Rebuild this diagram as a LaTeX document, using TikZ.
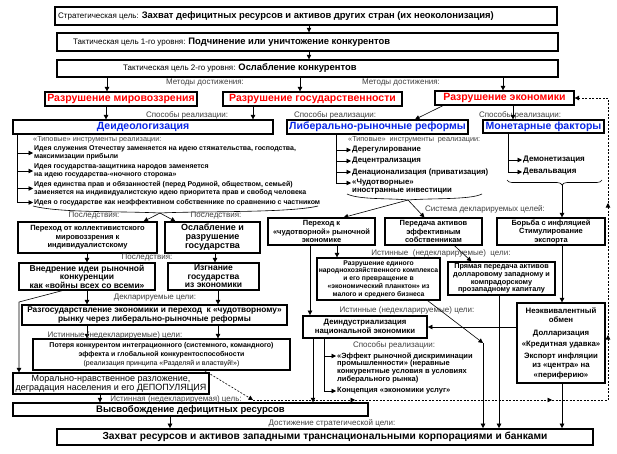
\documentclass[tikz,border=0pt]{standalone}
\usepackage{fontspec}
\setmainfont{Liberation Sans}
\usetikzlibrary{arrows.meta,decorations.pathreplacing}
\definecolor{redt}{RGB}{255,0,0}
\definecolor{bluet}{RGB}{10,40,230}
\begin{document}
\begin{tikzpicture}[x=1pt,y=-1pt,
  box/.style={draw, line width=1.2pt, fill=white, inner sep=0pt, align=center},
  sz/.style 2 args={minimum width=#1pt, minimum height=#2pt},
  txt/.style={inner sep=0pt},
  lab/.style={inner sep=0pt, font=\fontsize{8}{8}\selectfont, text=black!75},
  arr/.style={-{Triangle[length=4.5pt,width=4.5pt]}, line width=0.6pt},
  ln/.style={line width=0.6pt},
  dsh/.style={arr, dash pattern=on 2pt off 1.5pt},
  redb/.style={font=\bfseries\fontsize{10.5}{12}\selectfont, text=redt},
  blueb/.style={font=\bfseries\fontsize{10.5}{12}\selectfont, text=bluet},
  item/.style={anchor=west, inner sep=1pt, align=left, font=\bfseries\fontsize{7}{7.8}\selectfont},
  fb/.style={font=\bfseries\fontsize{7.5}{8.5}\selectfont}
]
\fill[white] (0,0) rectangle (617,453);
\useasboundingbox (0,0) rectangle (617,453);

% column helpers
\foreach \c in {17,19,87,100,106,107,170,215,218,253,300,309,310,313,324,336,337,499,503,508,513,562}
  \coordinate (x\c) at (\c,0);

% ---------- top goals
\node[box, line width=1.5pt, sz={502}{18}] (t1) at (306,16) {};
\node[txt, anchor=west] (t1x) at (58,16) {\fontsize{8}{9}\selectfont Стратегическая цель: \bfseries\fontsize{9.4}{11}\selectfont Захват дефицитных ресурсов и активов других стран (их неоколонизация)};
\node[box, line width=1.5pt, sz={501}{18}] (t2) at (307.5,42) {};
\node[txt, anchor=west] (t2x) at (73,42) {\fontsize{8}{9}\selectfont Тактическая цель 1-го уровня: \bfseries\fontsize{9.4}{11}\selectfont Подчинение или уничтожение конкурентов};
\node[box, line width=1.5pt, sz={501}{17}] (t3) at (307.5,68.5) {};
\node[txt, anchor=west] (t3x) at (123,68.5) {\fontsize{8}{9}\selectfont Тактическая цель 2-го уровня: \bfseries\fontsize{9.4}{11}\selectfont Ослабление конкурентов};
\draw[arr] (t1.south -| x309) -- (t2.north -| x309);
\draw[arr] (t2.south -| x309) -- (t3.north -| x309);

\node[lab] (lm1) at (205,83) {Методы достижения:};
\node[lab] (lm2) at (401,83) {Методы достижения:};

% ---------- methods
\node[box, sz={152}{14}, redb] (m1) at (121,99) {Разрушение мировоззрения};
\node[box, sz={179}{14}, redb] (m2) at (312.5,99) {Разрушение государственности};
\node[box, sz={139}{14}, redb] (m3) at (504.5,98) {Разрушение экономики};
\draw[arr] (t3.south -| x107) -- (m1.north -| x107);
\draw[arr] (t3.south -| x300) -- (m2.north -| x300);
\draw[arr] (t3.south -| x503) -- (m3.north -| x503);

\node[lab] (ls1) at (187,115) {Способы реализации:};
\node[lab] (ls2) at (335,115) {Способы реализации:};
\node[lab] (ls3) at (520,115) {Способы реализации:};

% ---------- ways
\node[box, sz={260}{14}, blueb] (d1) at (143,127) {Деидеологизация};
\node[box, sz={181}{14}, blueb] (d2) at (377.5,127) {Либерально-рыночные реформы};
\node[box, sz={121}{13}, blueb] (d3) at (543.5,126.5) {Монетарные факторы};
\draw[arr] (m1.south -| x106) -- (d1.north -| x106);
\draw[arr] (m2.south -| x253) -- (d1.north -| x253);
\draw[arr] ([xshift=-61.5pt]m3.south) -- ([xshift=37.5pt]d2.north);
\draw[arr] (m3.south -| x513) -- (d3.north -| x513);

% ---------- deideologization list
\node[lab, anchor=west, font=\fontsize{7.3}{8}\selectfont] (d1t) at (33,140) {«Типовые» инструменты реализации:};
\node[item] (i1) at (33,153) {Идея служения Отечеству заменяется на идею стяжательства, господства,\\максимизации прибыли};
\node[item] (i2) at (33,171) {Идея государства-защитника народов заменяется\\на идею государства-«ночного сторожа»};
\node[item] (i3) at (33,188.5) {Идея единства прав и обязанностей (перед Родиной, обществом, семьей)\\заменяется на индивидуалистскую идею приоритета прав и свобод человека};
\node[item] (i4) at (33,202.5) {Идея о государстве как неэффективном собственнике по сравнению с частником};
\draw[ln] (d1.south -| x17) -- (i4.west -| x17);
\foreach \n in {i1,i2,i3,i4} \draw[arr] (\n.west -| x17) -- (\n.west);

% ---------- liberal list
\node[lab, anchor=west, font=\fontsize{7.3}{8}\selectfont] (d2t) at (348,140) {\makebox[132pt][s]{«Типовые» инструменты реализации:}};
\node[item, font=\bfseries\fontsize{7.8}{8}\selectfont] (l1) at (351,150) {Дерегулирование};
\node[item, font=\bfseries\fontsize{7.8}{8}\selectfont] (l2) at (351,161) {Децентрализация};
\node[item, font=\bfseries\fontsize{7.8}{8}\selectfont] (l3) at (351,172) {Денационализация (приватизация)};
\node[item, font=\bfseries\fontsize{7.8}{8}\selectfont] (l4) at (351,183) {«Чудотворные»};
\node[item, font=\bfseries\fontsize{7.8}{8}\selectfont] (l5) at (351,191) {иностранные инвестиции};
\draw[ln] (d2.south -| x336) -- (l4.west -| x336);
\foreach \n in {l1,l2,l3,l4} \draw[arr] (\n.west -| x336) -- (\n.west);

% ---------- monetary list
\node[item, font=\bfseries\fontsize{8}{8}\selectfont] (o1) at (522,160) {Демонетизация};
\node[item, font=\bfseries\fontsize{8}{8}\selectfont] (o2) at (522,172) {Девальвация};
\draw[ln] (d3.south -| x508) -- (o2.west -| x508);
\foreach \n in {o1,o2} \draw[arr] (\n.west -| x508) -- (\n.west);

% ---------- consequences (left)
\node[box, sz={139}{31}, font=\bfseries\fontsize{7.5}{8.5}\selectfont] (c1) at (87.5,237.5) {Переход от коллективистского\\мировоззрения к\\индивидуалистскому};
\node[box, sz={95}{31}, font=\bfseries\fontsize{9}{9}\selectfont] (c2) at (212.5,237.5) {Ослабление и\\разрушение\\государства};
\coordinate (b1L) at (33,206);
\coordinate (b1R) at (318,206);
\coordinate (b1T) at (160,213);
\draw[arr] (b1L) .. controls (60,213) and (120,211) .. (b1T) -- ([xshift=11pt]c2.north west);
\draw[arr] (b1R) .. controls (290,213) and (200,211) .. (b1T) -- ([xshift=-14pt]c1.north east);
\node[lab] (lp1) at (94,216) {Последствия:};
\node[lab] (lp2) at (216,216) {Последствия:};

\node[box, sz={136}{27}, font=\bfseries\fontsize{8.5}{8.6}\selectfont] (e1) at (87,276.5) {Внедрение идеи рыночной\\конкуренции\\как «войны всех со всеми»};
\node[box, sz={91}{27}, font=\bfseries\fontsize{8.5}{8.6}\selectfont] (e2) at (213.5,276.5) {Изгнание\\государства\\из экономики};
\draw[arr] (c1.south -| x87) -- (e1.north -| x87);
\draw[arr] (c2.south -| x215) -- (e2.north -| x215);
\node[lab] (lp3) at (147,258) {Последствия:};

\node[box, sz={265}{20}, font=\bfseries\fontsize{8.3}{9}\selectfont] (f1) at (154.5,315) {Разгосударствление экономики и переход \ к «чудотворному»\\рынку через либерально-рыночные реформы};
\draw[arr] (e1.south -| x87) -- (f1.north -| x87);
\draw[arr] (e2.south -| x218) -- (f1.north -| x218);
\node[lab] (ld1) at (155,298) {Декларируемые цели:};

\node[box, sz={257}{31}, font=\bfseries\fontsize{7}{8.7}\selectfont] (g1) at (161.5,354.5) {Потеря конкурентом интеграционного (системного, командного)\\эффекта и глобальной конкурентоспособности\\{\mdseries (реализация принципа «Разделяй и властвуй!»)}};
\draw[arr] (f1.south -| x87) -- (g1.north -| x87);
\draw[arr] (f1.south -| x218) -- (g1.north -| x218);
\node[lab] (li1) at (115,335) {Истинные (недекларируемые) цели:};

\node[box, sz={196}{21}, font=\fontsize{9}{9}\selectfont] (h1) at (111,383.5) {Морально-нравственное разложение,\\деградация населения и его ДЕПОПУЛЯЦИЯ};
\coordinate (bendA) at (19,302);
\draw[arr] ([xshift=44pt]e1.south west) -- (bendA) -- (h1.north -| x19);

\node[box, line width=1.5pt, sz={355}{13}, font=\bfseries\fontsize{9.5}{11}\selectfont] (k1) at (190.5,409.5) {Высвобождение дефицитных ресурсов};
\draw[arr] (h1.south -| x100) -- (k1.north -| x100);
\node[lab] (li2) at (176,399) {Истинная (недекларируемая) цель:};

\node[box, line width=1.7pt, sz={536}{16}, font=\bfseries\fontsize{10.2}{12}\selectfont] (z) at (325,437) {Захват ресурсов и активов западными транснациональными корпорациями и банками};
\draw[arr] (k1.south -| x170) -- (z.north -| x170);
\node[lab] (lz) at (332,423) {Достижение стратегической цели:};

% ---------- right side declared goals
\node[box, sz={107}{27}, fb] (n1) at (321.5,231.5) {Переход к\\«чудотворной» рыночной\\экономике};
\node[box, sz={97}{27}, fb] (n2) at (433.5,231.5) {Передача активов\\эффективным\\собственникам};
\node[box, sz={108}{27}, fb] (n3) at (551,231.5) {Борьба с инфляцией\\Стимулирование\\экспорта};
\node[lab] (lsys) at (485,209) {Система декларируемых целей:};

\coordinate (b2L) at (347,194);
\coordinate (b2R) at (482,194);
\coordinate (b2T) at (408,200);
\draw[arr] (b2L) .. controls (360,200) and (390,198) .. (b2T) -- ([xshift=40pt]n2.north west);
\draw[arr] (b2R) .. controls (470,200) and (430,198) .. (b2T) -- ([xshift=-32pt]n1.north east);

\coordinate (bmL) at (507,180);
\coordinate (bmR) at (602,180);
\coordinate (bmT) at (562,185);
\draw[ln, decorate, decoration={brace, mirror, amplitude=5pt, aspect=0.58}] (bmL) -- (bmR);
\draw[arr] (bmT) -- (n3.north -| bmT);

% ---------- right side true goals
\node[box, sz={123}{42}, font=\bfseries\fontsize{6.8}{7.75}\selectfont] (p1) at (378.5,279) {Разрушение единого\\народнохозяйственного комплекса\\и его превращение в\\«экономический планктон» из\\малого и среднего бизнеса};
\node[box, sz={107}{33}, font=\bfseries\fontsize{7.3}{7.8}\selectfont] (p2) at (501.5,278.5) {Прямая передача активов\\долларовому западному и\\компрадорскому\\прозападному капиталу};
\node[lab] (li3) at (441,253) {Истинные \ (недекларируемые) \ цели:};
\draw[arr] (n1.south -| x337) -- (p1.north -| x337);
\draw[arr] ([xshift=70pt]n2.south west) -- ([xshift=24pt]p2.north west);

\node[box, line width=1.8pt, sz={124}{22}, font=\bfseries\fontsize{7.8}{8.3}\selectfont] (q1) at (365,327) {Деиндустриализация\\национальной экономики};
\node[lab] (li4) at (407,310) {Истинные (недекларируемые) цели:};
\draw[arr] (n1.south -| x310) -- (q1.north -| x310);

\node[box, sz={88}{80}, font=\bfseries\fontsize{7.8}{9.5}\selectfont] (r1) at (561,343) {Неэквивалентный\\обмен\\[3pt]Долларизация\\[2pt]«Кредитная удавка»\\[2pt]Экспорт инфляции\\из «центра» на\\«периферию»};
\draw[arr] (n3.south -| x562) -- (r1.north -| x562);
\draw[arr] (q1.east -| r1.west) -- (q1.east);

% ways of deindustrialization
\node[lab] (ls4) at (394,345) {Способы реализации:};
\node[item, font=\bfseries\fontsize{7.5}{8}\selectfont] (s1a) at (336,356) {«Эффект рыночной дискриминации};
\node[item, font=\bfseries\fontsize{7.5}{8}\selectfont] (s1b) at (336,372) {промышленности» (неравные\\конкурентные условия в условиях\\либерального рынка)};
\node[item, font=\bfseries\fontsize{7.5}{8}\selectfont] (s2) at (336,391) {Концепция «экономики услуг»};
\draw[ln] (q1.south -| x324) -- (s2.west -| x324);
\draw[arr] (s1a.west -| x324) -- (s1a.west);
\draw[arr] (s2.west -| x324) -- (s2.west);

% to final
\coordinate (bendB) at (483,343);
\draw[arr] ([xshift=-13pt]p1.south east) -- (bendB);
\draw[arr] (bendB) -- (z.north -| bendB);
\draw[arr] (p2.south -| x499) -- (z.north -| x499);
\draw[arr] (r1.south -| x562) -- (z.north -| x562);
\draw[arr] (q1.south -| x313) -- (k1.north -| x313);

% ---------- dashed feedback loop
\coordinate (fbA) at (253,400);
\coordinate (fbB) at (355,400);
\coordinate (fbC) at (552,400);
\coordinate (fbD) at (608,400);
\coordinate (fbE) at (608,335);
\coordinate (fbF) at (608,203);
\coordinate (fbG) at (608,98);
\draw[dsh] ([xshift=43pt]g1.south) -- (fbA);
\draw[dsh] (fbA) -- (fbB);
\draw[dsh] (fbB) -- (fbC);
\draw[dsh] (fbC) -- (fbD) -- (fbE);
\draw[dsh] (fbE) -- (fbF);
\draw[dsh] (fbF) -- (fbG) -- (m3.east);
\end{tikzpicture}
\end{document}
